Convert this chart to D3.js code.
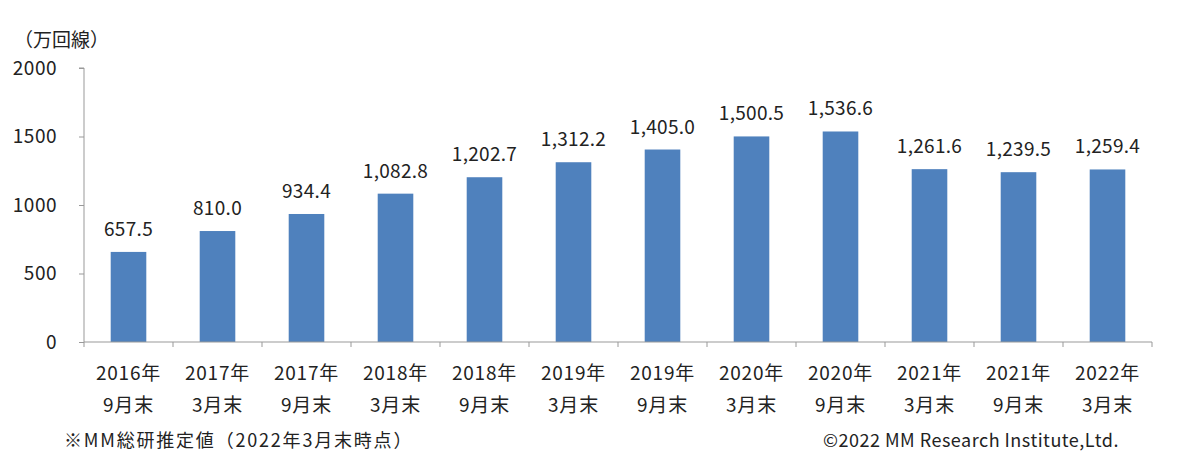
<!DOCTYPE html>
<html><head><meta charset="utf-8">
<script src="https://cdn.jsdelivr.net/npm/d3@7"></script>
<style>body{margin:0;background:#fff}svg{display:block}text{font-family:"Noto Sans CJK JP","Noto Sans",sans-serif;fill:#222}</style>
</head><body>
<svg id="c" width="1200" height="471"></svg>
<script>
const years = ["2016年","2017年","2017年","2018年","2018年","2019年","2019年","2020年","2020年","2021年","2021年","2022年"];
const months = ["9月末","3月末","9月末","3月末","9月末","3月末","9月末","3月末","9月末","3月末","9月末","3月末"];
const values = [657.5,810.0,934.4,1082.8,1202.7,1312.2,1405.0,1500.5,1536.6,1261.6,1239.5,1259.4];
const yTicks = [0,500,1000,1500,2000];

const svg = d3.select("#c");
const mLeft = 84, mRight = 1152, mTop = 68, mBottom = 342;
const idx = d3.range(values.length);
const x = d3.scaleBand().domain(idx).range([mLeft, mRight]).paddingInner(0.6).paddingOuter(0.3);
const y = d3.scaleLinear().domain([0, 2000]).range([mBottom, mTop]);

svg.selectAll("rect.bar").data(idx).join("rect")
  .attr("x", i => x(i)).attr("width", x.bandwidth())
  .attr("y", i => y(values[i])).attr("height", i => mBottom - y(values[i]))
  .attr("fill", "#4f81bd");

svg.selectAll("text.val").data(idx).join("text")
  .attr("x", i => x(i) + x.bandwidth()/2).attr("y", i => y(values[i]) - 16)
  .attr("text-anchor", "middle").attr("font-size", 19).attr("letter-spacing", 0.3)
  .text(i => d3.format(",.1f")(values[i]));

// y axis
const ya = svg.append("g").attr("transform", `translate(${mLeft},0)`)
  .call(d3.axisLeft(y).tickValues(yTicks).tickSize(5).tickPadding(22).tickFormat(d3.format("d")));
ya.selectAll("text").attr("font-size", 19).attr("fill", "#222").attr("letter-spacing", 0.5).style("font-family", '"Noto Sans CJK JP",sans-serif');
ya.select(".domain").attr("stroke", "#999").attr("d", `M-5,${mTop}H0V${mBottom}`);
ya.selectAll(".tick line").attr("stroke", "#999");

// x axis
const xs = d3.scaleLinear().domain([0, values.length]).range([mLeft, mRight]);
const xa = svg.append("g").attr("transform", `translate(0,${mBottom})`);
xa.append("line").attr("x1", mLeft).attr("x2", mRight).attr("stroke", "#999");
xa.selectAll("line.t").data(d3.range(values.length + 1)).join("line")
  .attr("x1", i => xs(i)).attr("x2", i => xs(i)).attr("y1", 0).attr("y2", 5).attr("stroke", "#999");

const xl = svg.selectAll("text.xl").data(idx).join("text")
  .attr("text-anchor", "middle").attr("font-size", 19).attr("letter-spacing", 0.8)
  .attr("x", i => x(i) + x.bandwidth()/2);
xl.append("tspan").attr("x", i => x(i) + x.bandwidth()/2).attr("y", 380).text(i => years[i]);
xl.append("tspan").attr("x", i => x(i) + x.bandwidth()/2).attr("y", 412).text(i => months[i]);

svg.append("text").attr("x", 14).attr("y", 47).attr("font-size", 19).text("（万回線）");
svg.append("text").attr("x", 64).attr("y", 447).attr("font-size", 18).attr("fill", "#333").attr("letter-spacing", 1.8).text("※MM総研推定値（2022年3月末時点）");
svg.append("text").attr("x", 823).attr("y", 447).attr("font-size", 18).attr("fill", "#333").attr("letter-spacing", 0.5).text("©2022 MM Research Institute,Ltd.");
</script>
</body></html>
